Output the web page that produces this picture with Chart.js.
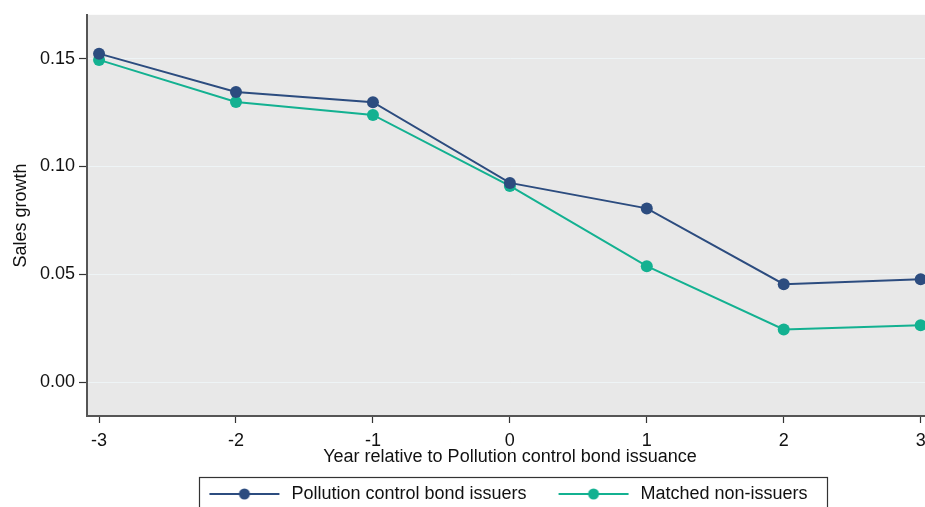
<!DOCTYPE html>
<html>
<head>
<meta charset="utf-8">
<script src="https://cdn.jsdelivr.net/npm/chart.js@4/dist/chart.umd.min.js"></script>
<style>
  html, body { margin: 0; padding: 0; background: #fff; overflow: hidden; }
  #wrap { width: 1024px; height: 513px; }
</style>
</head>
<body>
<div id="wrap"><canvas id="salesChart" width="1024" height="513"></canvas></div>
<script>
// Dados
const years = [-3, -2, -1, 0, 1, 2, 3];
const issuers = [0.1523, 0.1345, 0.1298, 0.0924, 0.0806, 0.0455, 0.0478];
const nonIssuers = [0.1494, 0.1299, 0.1239, 0.0910, 0.0538, 0.0245, 0.0265];
const yTicks = [0, 0.05, 0.10, 0.15];

const navy = '#2c4c7f';
const teal = '#13b191';
const fontFamily = '"Liberation Sans", Arial, sans-serif';

// Marcador da legenda: linha com ponto no meio
function legendMarker(color) {
    const c = document.createElement('canvas');
    c.width = 88; c.height = 14;
    const g = c.getContext('2d');
    g.strokeStyle = color;
    g.lineWidth = 2;
    g.beginPath();
    g.moveTo(15, 7); g.lineTo(85, 7);
    g.stroke();
    g.fillStyle = color;
    g.beginPath();
    g.arc(50, 7, 5.5, 0, Math.PI * 2);
    g.fill();
    return c;
}
const markers = [legendMarker(navy), legendMarker(teal)];

// Fundo cinza da área do gráfico e moldura da legenda
const plotBackground = {
    id: 'plotBackground',
    afterLayout(chart) {
        // desloca a legenda um pouco para a esquerda
        chart.legend.left -= 9;
        chart.legend.right -= 9;
    },
    beforeDraw(chart) {
        const {ctx, chartArea: a} = chart;
        ctx.save();
        ctx.fillStyle = '#e8e8e8';
        ctx.fillRect(a.left, a.top, a.right - a.left, a.bottom - a.top);
        ctx.restore();
    },
    afterDraw(chart) {
        const boxes = chart.legend.legendHitBoxes;
        if (!boxes || !boxes.length) return;
        const first = boxes[0], last = boxes[boxes.length - 1];
        const ctx = chart.ctx;
        const left = first.left + 15 - 10;
        const right = last.left + last.width + 20;
        const top = first.top + first.height / 2 - 17;
        ctx.save();
        ctx.strokeStyle = '#333';
        ctx.lineWidth = 1.2;
        ctx.strokeRect(Math.round(left) + 0.5, Math.round(top) + 0.5, Math.round(right - left), 60);
        ctx.restore();
    }
};

const ctx = document.getElementById('salesChart').getContext('2d');
const salesChart = new Chart(ctx, {
    type: 'line',
    data: {
        datasets: [{
            label: 'Pollution control bond issuers',
            data: years.map((x, i) => ({x: x, y: issuers[i]})),
            borderColor: navy,
            backgroundColor: navy,
            borderWidth: 2,
            pointRadius: 6,
            pointBorderWidth: 0,
            fill: false
        }, {
            label: 'Matched non-issuers',
            data: years.map((x, i) => ({x: x, y: nonIssuers[i]})),
            borderColor: teal,
            backgroundColor: teal,
            borderWidth: 2,
            pointRadius: 6,
            pointBorderWidth: 0,
            fill: false
        }]
    },
    options: {
        responsive: false,
        animation: false,
        layout: { padding: { top: 14, right: 91, left: 0, bottom: 0 } },
        scales: {
            x: {
                type: 'linear',
                min: -3.088,
                max: 3.09,
                afterBuildTicks: (axis) => { axis.ticks = years.map(v => ({value: v})); },
                afterFit: (axis) => { axis.height = 52; },
                grid: { drawOnChartArea: false, tickColor: '#333', tickLength: 7, tickWidth: 1.2 },
                border: { color: '#555', width: 2 },
                ticks: { color: '#111', font: { family: fontFamily, size: 18 }, padding: 7, maxRotation: 0 },
                title: {
                    display: true,
                    text: 'Year relative to Pollution control bond issuance',
                    color: '#111',
                    font: { family: fontFamily, size: 18 },
                    padding: { top: 0, bottom: 0 }
                }
            },
            y: {
                min: -0.0156,
                max: 0.1703,
                afterBuildTicks: (axis) => { axis.ticks = yTicks.map(v => ({value: v})); },
                afterFit: (axis) => { axis.width = 87; },
                grid: { color: '#eef4f6', lineWidth: 1, tickColor: '#333', tickLength: 8, tickWidth: 1.2 },
                border: { color: '#555', width: 2 },
                ticks: {
                    color: '#111',
                    font: { family: fontFamily, size: 18 },
                    padding: 4,
                    callback: (v) => v.toFixed(2)
                },
                title: {
                    display: true,
                    text: 'Sales growth',
                    color: '#111',
                    font: { family: fontFamily, size: 18 },
                    padding: { top: 10, bottom: 0 }
                }
            }
        },
        plugins: {
            tooltip: { enabled: false },
            legend: {
                position: 'bottom',
                fullSize: false,
                labels: {
                    usePointStyle: true,
                    pointStyleWidth: 88,
                    padding: 17,
                    color: '#111',
                    font: { family: fontFamily, size: 18 },
                    generateLabels: (chart) => chart.data.datasets.map((ds, i) => ({
                        text: ds.label,
                        pointStyle: markers[i],
                        fontColor: '#111',
                        lineWidth: 0,
                        strokeStyle: 'transparent',
                        fillStyle: 'transparent',
                        datasetIndex: i,
                        hidden: false
                    }))
                }
            }
        }
    },
    plugins: [plotBackground]
});
</script>
</body>
</html>
